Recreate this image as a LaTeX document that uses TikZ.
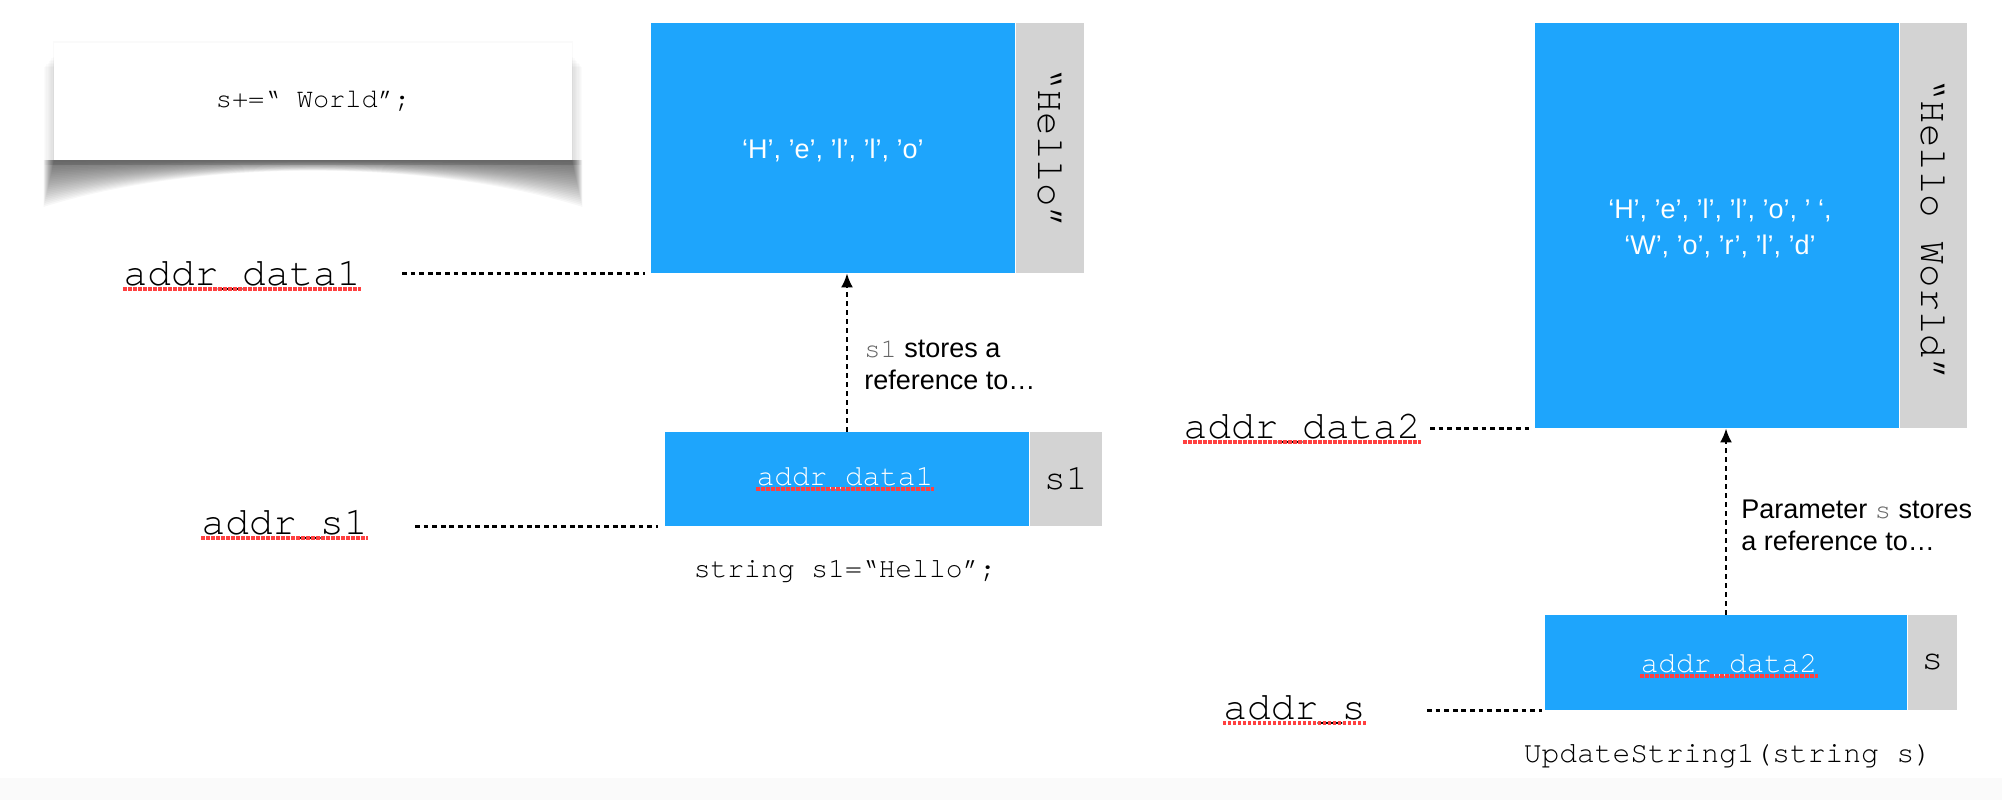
\documentclass[tikz,border=0pt]{standalone}
\usepackage{fontspec}
\setmainfont{Liberation Sans}
\setmonofont{TeX Gyre Cursor}
\usetikzlibrary{positioning,arrows.meta}

\definecolor{CellBlue}{RGB}{30,165,252}
\definecolor{TagGray}{RGB}{211,211,211}
\definecolor{SquiggleRed}{RGB}{255,64,64}
\colorlet{NoteMono}{black!60}

\tikzset{
    cell/.style={fill=CellBlue, inner sep=0pt},
    tag/.style={fill=TagGray, inner sep=0pt, font=\fontsize{18}{20}\selectfont\ttfamily},
    rotword/.style={inner sep=0pt, rotate=-90, font=\fontsize{19.5}{22}\selectfont\ttfamily},
    addr/.style={inner sep=0pt, anchor=base east, font=\fontsize{19.75}{22}\selectfont\ttfamily},
    inaddr/.style={inner sep=0pt, text=white, font=\fontsize{14.7}{17}\selectfont\ttfamily},
    chars/.style={inner sep=0pt, text=white, align=center, font=\fontsize{13.5}{18}\selectfont},
    note/.style={inner sep=0pt, anchor=west, align=left, font=\fontsize{13.5}{16}\selectfont},
    code/.style={inner sep=0pt, font=\fontsize{14}{17}\selectfont\ttfamily},
    link/.style={line width=1.4pt, dash pattern=on 2.4pt off 1.9pt},
    ref/.style={line width=1.1pt, dash pattern=on 2.5pt off 2pt, -{Latex[length=7pt,width=6pt]}},
    squiggle/.style={SquiggleRed, line width=2pt, dash pattern=on 1.7pt off 0.8pt},
}

\begin{document}
\begin{tikzpicture}[x=0.5pt, y=-0.5pt]

    \useasboundingbox (0,0) rectangle (2002,800);
    \fill[black!2] (0,778) rectangle (2002,800);

    % card with curled shadow
    \fill[black, opacity=0.02] (53,41) rectangle (573,160);
    \foreach \k in {1,...,8}
        \fill[black, opacity=0.014] (54-1.3*\k,55+1.5*\k) rectangle (572+1.3*\k,165);
    \foreach \k in {0,...,23} {
        \pgfmathsetmacro\yb{162+1.95*\k}
        \pgfmathsetmacro\yc{(8*(161+0.42*\k)-2*\yb)/6}
        \fill[black, opacity=0.033] (54-0.45*\k,160) -- (54-0.45*\k,\yb)
        .. controls (200,\yc) and (426,\yc) .. (572+0.45*\k,\yb) -- (572+0.45*\k,160) -- cycle;
    }
    \node[fill=white, minimum width=259pt, minimum height=58.5pt,
        font=\fontsize{13.5}{16}\selectfont\ttfamily] (card) at (313,101.5) {s+=“ World”;};

    % first call
    \node[cell, minimum width=182pt, minimum height=125pt] (data1) at (833,148) {};
    \node[tag, minimum width=34pt, minimum height=125pt, right=0pt of data1] (data1tag) {};
    \node[rotword] (word1) at (data1tag.center) {“Hello”};
    \node[chars] (chars1) at (833,150) {‘H’, ’e’, ’l’, ’l’, ’o’};

    \node[cell, minimum width=182pt, minimum height=47pt] (var1) at (847,479) {};
    \node[tag, minimum width=36pt, minimum height=47pt, right=0pt of var1] (var1tag) {s1};
    \node[inaddr] (var1val) at (845,478) {addr\_data1};

    \node[addr] (adata1) at (361,285) {addr\_data1};
    \node[addr] (avar1) at (368,534) {addr\_s1};
    \node[code] (decl1) at (845,572) {string s1=“Hello”;};
    \node[note] (note1) at (864,365) {\textcolor{NoteMono}{\ttfamily s1} stores a\\reference to…};

    \draw[link, shorten <=20.5pt, shorten >=3pt] (adata1.east |- data1.south) -- (data1.south west);
    \draw[link, shorten <=23.5pt, shorten >=3.5pt] (avar1.east |- var1.south) -- (var1.south west);
    \draw[ref] (var1.north) -- (var1.north |- data1.south);

    % second call
    \node[cell, minimum width=182pt, minimum height=202.5pt] (data2) at (1717,225.5) {};
    \node[tag, minimum width=33.5pt, minimum height=202.5pt, right=0pt of data2] (data2tag) {};
    \node[rotword] (word2) at ([yshift=-2pt]data2tag.center) {“Hello World”};
    \node[chars] (chars2) at (1720,228) {‘H’, ’e’, ’l’, ’l’, ’o’, ’ ‘,\\‘W’, ’o’, ’r’, ’l’, ’d’};

    \node[cell, minimum width=181pt, minimum height=47.5pt] (var2) at (1726,662.5) {};
    \node[tag, minimum width=24.5pt, minimum height=47.5pt, right=0pt of var2] (var2tag) {s};
    \node[inaddr] (var2val) at (1729,665) {addr\_data2};

    \node[addr] (adata2) at (1421,438) {addr\_data2};
    \node[addr] (avar2) at (1366,719) {addr\_s};
    \node[code, font=\fontsize{14.8}{17}\selectfont\ttfamily] (decl2) at (1728,756) {UpdateString1(string s)};
    \node[note] (note2) at (1741,525) {Parameter \textcolor{NoteMono}{\ttfamily s} stores\\a reference to…};

    \draw[link, shorten <=4.5pt, shorten >=1.5pt] (adata2.east |- data2.south) -- (data2.south west);
    \draw[link, shorten <=30.5pt, shorten >=1.5pt] (avar2.east |- var2.south) -- (var2.south west);
    \draw[ref] (var2.north) -- (var2.north |- data2.south);

    % spell-check marks
    \foreach \n in {adata1,avar1,var1val,adata2,avar2,var2val}
        \draw[squiggle] ([yshift=-2pt]\n.base west) -- ([yshift=-2pt]\n.base east);

\end{tikzpicture}
\end{document}
